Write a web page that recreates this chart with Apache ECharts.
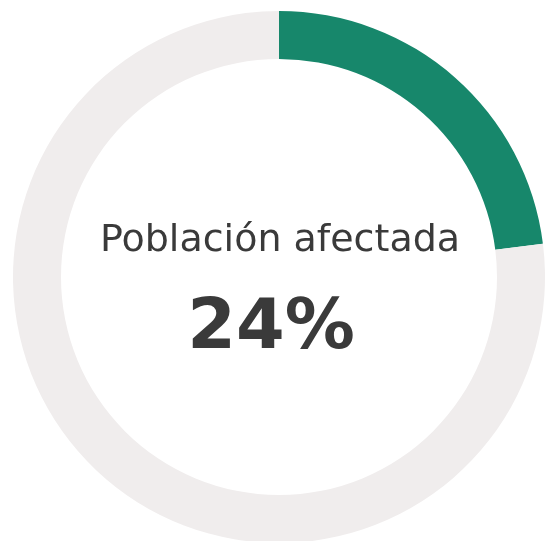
<!DOCTYPE html>
<html>
<head>
<meta charset="utf-8">
<script src="https://cdn.jsdelivr.net/npm/echarts@6/dist/echarts.min.js"></script>
<style>
  html, body { margin: 0; padding: 0; background: #fff; }
  #chart { width: 547px; height: 541px; }
</style>
</head>
<body>
<div id="chart"></div>
<script>
var categories = ['Población afectada', 'Resto'];
// arco tal como se ve en la imagen (~23%), etiqueta central 24%
var values = [23, 77];
var centerLabel = '24%';
var colors = ['#17876b', '#f0eded'];

var myChart = echarts.init(document.getElementById('chart'));

var option = {
    animation: false,
    color: colors,
    graphic: [
        {
            type: 'text',
            x: 280,
            y: 222,
            silent: true,
            style: {
                text: categories[0],
                align: 'center',
                verticalAlign: 'top',
                fontFamily: 'DejaVu Sans',
                fontSize: 38,
                fill: '#3a3a3a'
            }
        },
        {
            type: 'text',
            x: 271,
            y: 295,
            silent: true,
            style: {
                text: centerLabel,
                align: 'center',
                verticalAlign: 'top',
                fontFamily: 'DejaVu Sans',
                fontWeight: 'bold',
                fontSize: 70,
                fill: '#3a3a3a'
            }
        }
    ],
    series: [
        {
            type: 'pie',
            center: [279, 277],
            radius: [218, 266],
            startAngle: 90,
            clockwise: true,
            silent: true,
            label: { show: false },
            labelLine: { show: false },
            data: categories.map(function (c, i) {
                return { name: c, value: values[i] };
            })
        }
    ]
};
myChart.setOption(option);
</script>
</body>
</html>
